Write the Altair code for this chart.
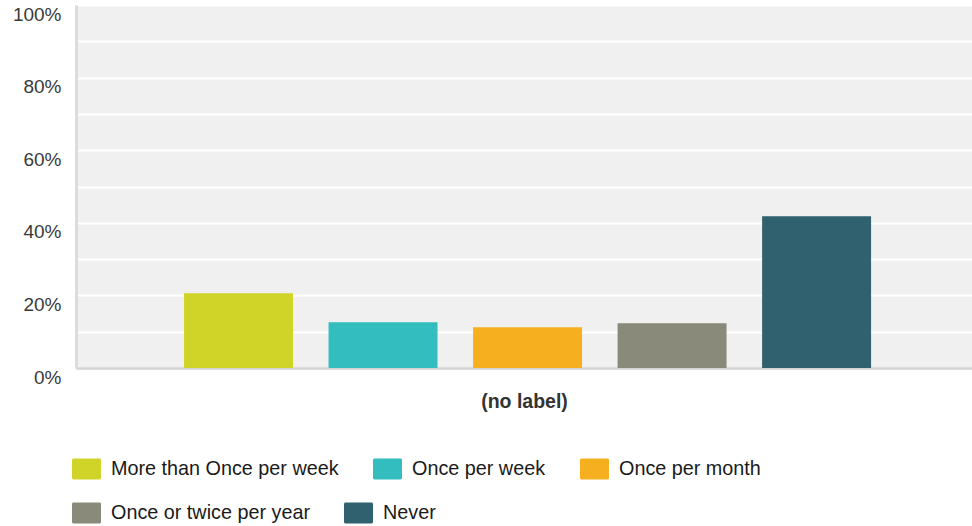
import altair as alt
import pandas as pd

# Survey answers and the share of respondents giving each one
categories = [
    "More than Once per week",
    "Once per week",
    "Once per month",
    "Once or twice per year",
    "Never",
]
shares = [0.206, 0.126, 0.112, 0.123, 0.418]
colors = ["#d0d428", "#34bdbf", "#f6b01f", "#8a8a7a", "#2f616e"]
y_ticks = [0, 0.1, 0.2, 0.3, 0.4, 0.5, 0.6, 0.7, 0.8, 0.9, 1.0]

# the legend is split over two rows: first three answers, then the last two
row1, row2 = categories[:3], categories[3:]

df = pd.DataFrame({"answer": categories, "share": shares})

FONT = "Liberation Sans"

# rounded rectangle swatch for the legend (unit path, scaled by sqrt(size)/2)
swatch = (
    "M-0.9,-0.724 H0.9 A0.1,0.1 0 0 1 1,-0.624 V0.624 A0.1,0.1 0 0 1 0.9,0.724 "
    "H-0.9 A0.1,0.1 0 0 1 -1,0.624 V-0.624 A0.1,0.1 0 0 1 -0.9,-0.724 Z"
)

x_enc = alt.X(
    "answer:N",
    scale=alt.Scale(
        domain=categories, paddingInner=0.246, paddingOuter=0.723, align=0.517
    ),
    axis=alt.Axis(
        labels=False,
        ticks=False,
        title="(no label)",
        titleFont=FONT,
        titleFontSize=19.5,
        titleFontWeight="bold",
        titleColor="#333333",
        titlePadding=24,
        domainColor="#d3d3d3",
        domainWidth=2.5,
        grid=False,
    ),
)

y_enc = alt.Y(
    "share:Q",
    scale=alt.Scale(domain=[0, 1]),
    axis=alt.Axis(
        values=y_ticks,
        labelExpr="round(datum.value * 10) % 2 == 0 ? format(datum.value, '.0%') : ''",
        ticks=False,
        title=None,
        labelFont=FONT,
        labelFontSize=19,
        labelColor="#3a3a3a",
        labelPadding=15,
        labelOffset=9,
        domainColor="#dcdcdc",
        domainWidth=3,
        gridColor="#ffffff",
        gridWidth=2,
        gridOpacity=1,
    ),
)


def legend_for(names, y):
    return alt.Legend(
        orient="none",
        legendX=-4,
        legendY=y,
        direction="horizontal",
        columns=len(names),
        columnPadding=33,
        symbolType=swatch,
        symbolSize=841,
        symbolStrokeWidth=0,
        symbolOpacity=1,
        labelFont=FONT,
        labelFontSize=19.8,
        labelColor="#1a1a1a",
        labelOffset=10,
        labelLimit=400,
        title=None,
        padding=0,
    )


def bars(names, legend_y):
    return (
        alt.Chart(df)
        .transform_filter(alt.FieldOneOfPredicate(field="answer", oneOf=names))
        .mark_bar()
        .encode(
            x=x_enc,
            y=y_enc,
            color=alt.Color(
                "answer:N",
                scale=alt.Scale(
                    domain=names, range=[colors[categories.index(n)] for n in names]
                ),
                legend=legend_for(names, legend_y),
            ),
        )
    )


chart = (
    alt.layer(bars(row1, 449.5), bars(row2, 493.5))
    .resolve_scale(color="independent")
    .properties(
        width=896,
        height=363,
        autosize=alt.AutoSizeParams(type="none"),
        padding={"left": 76, "top": 5, "right": 0, "bottom": 158},
        background="#ffffff",
    )
    .configure_view(fill="#f0f0f0", stroke=None)
)

chart.save("out.html", embed_options={"renderer": "svg", "actions": False})
